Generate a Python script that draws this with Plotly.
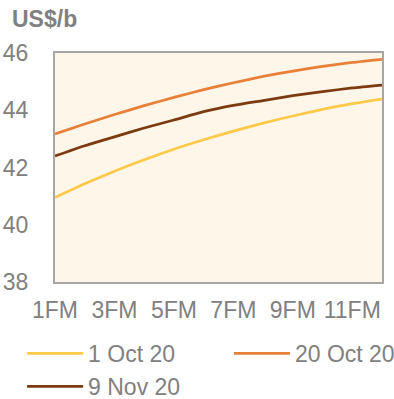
import plotly.graph_objects as go

months = ["1FM", "2FM", "3FM", "4FM", "5FM", "6FM", "7FM", "8FM", "9FM", "10FM", "11FM", "12FM"]
tick_labels = ["1FM", "3FM", "5FM", "7FM", "9FM", "11FM"]
oct1 = [40.95, 41.43, 41.87, 42.27, 42.64, 42.97, 43.27, 43.55, 43.80, 44.03, 44.23, 44.39]
oct20 = [43.17, 43.52, 43.85, 44.16, 44.45, 44.72, 44.96, 45.18, 45.37, 45.53, 45.67, 45.78]
nov9 = [42.40, 42.76, 43.07, 43.38, 43.66, 43.95, 44.17, 44.34, 44.51, 44.65, 44.78, 44.88]

series = [("1 Oct 20", oct1, "#FFC94A", "legend"),
          ("20 Oct 20", oct20, "#E8803A", "legend2"),
          ("9 Nov 20", nov9, "#7B3A10", "legend")]

grey = "#808080"
font = "Liberation Sans, Arial, sans-serif"

fig = go.Figure()
for name, vals, col, lg in series:
    fig.add_trace(go.Scatter(x=months, y=vals, mode="lines", name=name, legend=lg,
                             line=dict(color=col, width=2.75, shape="spline", smoothing=0.6)))

leg_common = dict(orientation="v", xref="container", yref="container", xanchor="left",
                  yanchor="top", font=dict(size=23, color=grey), tracegroupgap=0,
                  itemwidth=56, bgcolor="rgba(0,0,0,0)", traceorder="normal")

fig.update_layout(
    width=394, height=399,
    margin=dict(l=55, r=12, t=53, b=117, autoexpand=False),
    paper_bgcolor="white", plot_bgcolor="#FEF7E9",
    font=dict(family=font, size=23, color=grey),
    showlegend=True,
    legend=dict(x=0.056, y=0.168, **leg_common),
    legend2=dict(x=0.581, y=0.168, **leg_common),
    annotations=[dict(text="<b>US$/b</b>", xref="paper", yref="paper", x=-0.1376, y=1.148,
                      xanchor="left", yanchor="middle", showarrow=False,
                      font=dict(size=23, color=grey, family=font))],
)
fig.update_xaxes(type="category", range=[0, 11], tickvals=tick_labels, ticktext=tick_labels,
                 showgrid=False, showline=True, linecolor="#A6A6A6", linewidth=2, mirror=True,
                 ticks="", ticklabelstandoff=6, tickfont=dict(size=23, color=grey), zeroline=False,
                 automargin=False)
fig.update_yaxes(range=[38, 46], dtick=2, showgrid=False, showline=True, linecolor="#A6A6A6",
                 linewidth=2, mirror=True, ticks="", ticklabelstandoff=20,
                 tickfont=dict(size=23, color=grey), zeroline=False, automargin=False)

fig.write_html("out.html")
